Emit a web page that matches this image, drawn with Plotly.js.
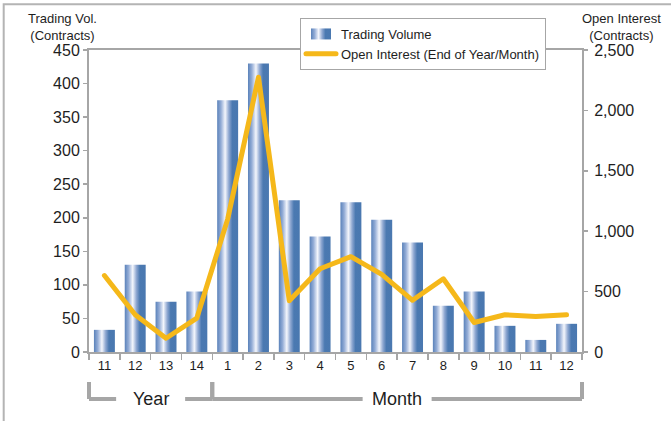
<!DOCTYPE html>
<html>
<head>
<meta charset="utf-8">
<script src="https://cdn.plot.ly/plotly-3.0.1.min.js"></script>
<style>
  html, body { margin: 0; padding: 0; background: #fff; }
  #chart { width: 671px; height: 421px; }
</style>
</head>
<body>
<div id="chart"></div>
<script>
// ---- data ----
const tickLabels = ['11','12','13','14','1','2','3','4','5','6','7','8','9','10','11','12'];
const periodGroups = ['Year','Year','Year','Year','Month','Month','Month','Month','Month','Month','Month','Month','Month','Month','Month','Month'];
const tradingVolume = [33, 130, 75, 90, 375, 430, 226, 172, 223, 197, 163, 69, 90, 39, 18, 42];
const openInterest = [633, 308, 114, 281, 1100, 2275, 425, 689, 789, 642, 428, 606, 244, 308, 294, 308];
const volTicks = [0, 50, 100, 150, 200, 250, 300, 350, 400, 450];
const oiTicks = [0, 500, 1000, 1500, 2000, 2500];

// unique category keys (labels repeat across groups)
const cats = tickLabels.map((t, i) => periodGroups[i] + ' ' + t);
const n = cats.length;

const FONT = '"Liberation Sans", Arial, "Noto Sans CJK JP", sans-serif';
const GREY = '#a6a6a6';
const TXT = '#1e1e1e';

const traces = [
  {
    type: 'bar', name: 'Trading Volume',
    x: cats, y: tradingVolume, yaxis: 'y',
    marker: { color: '#4a78b0', line: { width: 0 } },
    hoverinfo: 'skip'
  },
  {
    type: 'scatter', mode: 'lines', name: 'Open Interest (End of Year/Month)',
    x: cats, y: openInterest, yaxis: 'y2',
    line: { color: '#f5b81a', width: 5 },
    hoverinfo: 'skip'
  }
];

const px = (idx) => (idx + 0.5) / n;
const groupSpans = [];
periodGroups.forEach((g, i) => {
  const last = groupSpans[groupSpans.length - 1];
  if (last && last.name === g) last.end = i; else groupSpans.push({ name: g, start: i, end: i });
});

const plotW = 671 - 89 - 89, plotH = 421 - 50 - 69;
const pyFromPx = (ypx) => (352 - ypx) / plotH;
const pxFromPx = (xpx) => (xpx - 89) / plotW;

const shapes = [];
const annotations = [];
const bracketY = pyFromPx(399), bracketTop = pyFromPx(382);
const gapHalf = 34.5 / plotW;
groupSpans.forEach(s => {
  const x0 = px(s.start - 0.5), x1 = px(s.end + 0.5), xc = (x0 + x1) / 2;
  const ln = { type: 'line', xref: 'paper', yref: 'paper', line: { color: GREY, width: 4 } };
  shapes.push(Object.assign({}, ln, { x0: x0, x1: x0, y0: bracketTop, y1: bracketY }));
  shapes.push(Object.assign({}, ln, { x0: x1, x1: x1, y0: bracketTop, y1: bracketY }));
  shapes.push(Object.assign({}, ln, { x0: x0, x1: xc - gapHalf, y0: bracketY, y1: bracketY }));
  shapes.push(Object.assign({}, ln, { x0: xc + gapHalf, x1: x1, y0: bracketY, y1: bracketY }));
  annotations.push({ xref: 'paper', yref: 'paper', x: xc, y: bracketY, text: s.name, showarrow: false,
    xanchor: 'center', yanchor: 'middle', font: { family: FONT, size: 18, color: TXT } });
});
// outer frame
shapes.push({ type: 'rect', xref: 'paper', yref: 'paper', x0: pxFromPx(3.7), x1: pxFromPx(720),
  y0: pyFromPx(460), y1: pyFromPx(4.3), line: { color: '#b4b4b4', width: 2 }, fillcolor: 'rgba(0,0,0,0)', layer: 'below' });

// axis titles (two lines each)
const titleFont = { family: FONT, size: 13, color: TXT };
[['Trading Vol.<br>(Contracts)', 62.5], ['Open Interest<br>(Contracts)', 621]].forEach(t => {
  annotations.push({ xref: 'paper', yref: 'paper', x: pxFromPx(t[1]), y: pyFromPx(27.5), text: t[0], showarrow: false,
    xanchor: 'center', yanchor: 'middle', align: 'center', borderpad: 0, font: titleFont });
});

const layout = {
  width: 671, height: 421,
  margin: { l: 89, r: 89, t: 50, b: 69, pad: 0 },
  paper_bgcolor: '#fff', plot_bgcolor: '#fff',
  font: { family: FONT, color: TXT },
  showlegend: true,
  bargap: 0.32,
  xaxis: {
    type: 'category', categoryorder: 'array', categoryarray: cats,
    tickvals: cats, ticktext: tickLabels, tickson: 'boundaries',
    range: [-0.5, n - 0.5],
    showline: true, linecolor: GREY, linewidth: 2, mirror: true,
    ticks: 'outside', ticklen: 6, tickwidth: 1.5, tickcolor: GREY,
    tickfont: { family: FONT, size: 13, color: TXT },
    showgrid: false, zeroline: false, fixedrange: true
  },
  yaxis: {
    range: [0, 450], tickvals: volTicks,
    showline: true, linecolor: GREY, linewidth: 2,
    ticks: 'outside', ticklen: 4, tickwidth: 1.5, tickcolor: GREY,
    tickfont: { family: FONT, size: 16, color: TXT },
    showgrid: false, zeroline: false, fixedrange: true
  },
  yaxis2: {
    overlaying: 'y', side: 'right',
    range: [0, 2500], tickvals: oiTicks, tickformat: ',d',
    showline: true, linecolor: GREY, linewidth: 2,
    ticks: 'outside', ticklen: 4, tickwidth: 1.5, tickcolor: GREY,
    tickfont: { family: FONT, size: 16, color: TXT },
    ticklabelstandoff: 3,
    showgrid: false, zeroline: false, fixedrange: true
  },
  legend: {
    x: pxFromPx(300), y: pyFromPx(18), xanchor: 'left', yanchor: 'top',
    bgcolor: '#fff', bordercolor: GREY, borderwidth: 1,
    font: { family: FONT, size: 13, color: TXT },
    tracegroupgap: 0, itemwidth: 30
  },
  shapes: shapes,
  annotations: annotations,
  hovermode: false
};

Plotly.newPlot('chart', traces, layout, { staticPlot: true, displayModeBar: false }).then(gd => {
  const svg = gd.querySelector('svg.main-svg');
  const ns = 'http://www.w3.org/2000/svg';
  let defs = svg.querySelector('defs');
  if (!defs) { defs = document.createElementNS(ns, 'defs'); svg.insertBefore(defs, svg.firstChild); }
  const grad = document.createElementNS(ns, 'linearGradient');
  grad.setAttribute('id', 'barGrad');
  grad.setAttribute('x1', '0'); grad.setAttribute('x2', '1');
  grad.setAttribute('y1', '0'); grad.setAttribute('y2', '0');
  [[0, '#5a82ba'], [0.18, '#93acd6'], [0.38, '#f4f6fc'], [0.56, '#8ea7d1'], [0.72, '#4b79b1'], [1, '#4a78b0']].forEach(s => {
    const st = document.createElementNS(ns, 'stop');
    st.setAttribute('offset', s[0]); st.setAttribute('stop-color', s[1]);
    grad.appendChild(st);
  });
  defs.appendChild(grad);
  gd.querySelectorAll('.barlayer .point path').forEach(p => { p.style.fill = 'url(#barGrad)'; });
  gd.querySelectorAll('.legend .legendpoints path').forEach(p => {
    const f = p.style.fill;
    if (f && f !== 'none' && !p.classList.contains('js-line')) {
      p.setAttribute('d', 'M10,5.5H-10V-5.5H10Z');
      p.style.fill = 'url(#barGrad)';
    }
  });
  gd.querySelectorAll('.legend .js-line, .scatterlayer .js-line').forEach(p => {
    p.style.strokeLinecap = 'round';
    p.style.strokeLinejoin = 'round';
  });
});
</script>
</body>
</html>
